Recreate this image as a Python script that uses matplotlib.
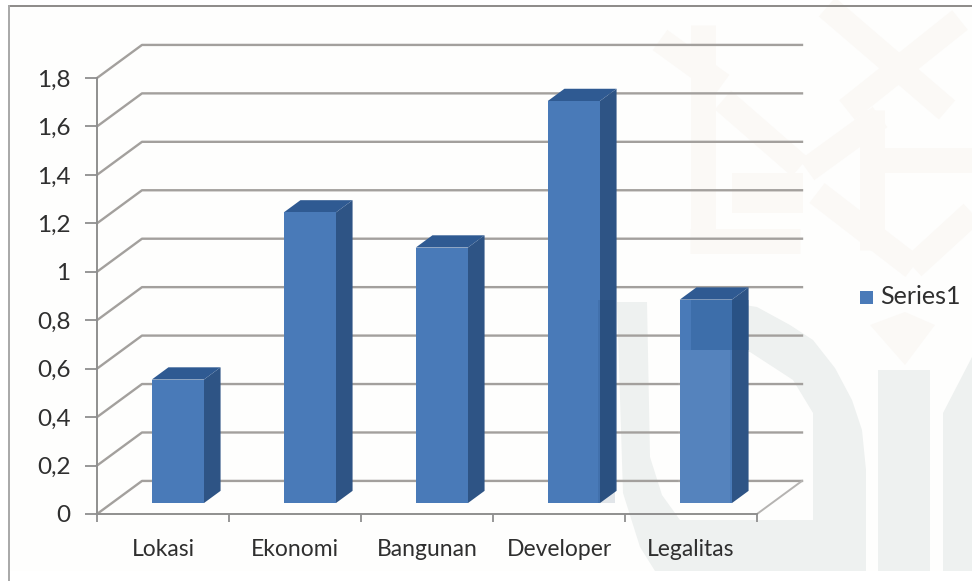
import matplotlib
matplotlib.use('Agg')
import matplotlib.pyplot as plt
from matplotlib.patches import Polygon, Rectangle

categories = ['Lokasi', 'Ekonomi', 'Bangunan', 'Developer', 'Legalitas']
values = [0.51, 1.20, 1.055, 1.66, 0.84]
y_ticks = [0, 0.2, 0.4, 0.6, 0.8, 1, 1.2, 1.4, 1.6, 1.8]
y_labels = ['0', '0,2', '0,4', '0,6', '0,8', '1', '1,2', '1,4', '1,6', '1,8']
series_name = 'Series1'

W, H = 972, 581
FONT = 'Lato'
TEXT = '#2f2f2f'
GRID = '#a3a09d'

# oblique offset of the back wall, in category units and value units
DX = 45 / 132
DY = 33 / (435 / 1.8)
BAR_W = 0.395
D0, D1 = 0.33, 0.70


def shift(x, y, d):
    return x + DX * d, y + DY * d


fig = plt.figure(figsize=(W / 100, H / 100), dpi=100, facecolor='white')

# background layer in pixel coordinates
bg = fig.add_axes([0, 0, 1, 1])
bg.set_xlim(0, W)
bg.set_ylim(H, 0)
bg.axis('off')
bg.add_patch(Rectangle((9, 6), W - 9, 565, fc='#fefefd', ec='none'))

# pale seal pattern, top right
CREAM = '#fbf9f6'
bands = [
    ((660, 40), (722, 85)),
    ((827, 7), (947, 110)),
    ((960, 20), (847, 110)),
    ((723, 100), (800, 167)),
    ((807, 170), (880, 117)),
    ((817, 193), (913, 267)),
    ((913, 267), (972, 213)),
    ((703, 25), (703, 253)),
    ((690, 241), (800, 241)),
    ((872, 110), (872, 250)),
    ((872, 160), (972, 160)),
]
for a, b in bands:
    bg.plot([a[0], b[0]], [a[1], b[1]], color=CREAM, lw=18, solid_capstyle='butt')
bg.add_patch(Rectangle((732, 173), 71, 40, fc=CREAM, ec='none'))
bg.add_patch(Polygon([(870, 325), (905, 312), (935, 325), (905, 365)], closed=True, fc=CREAM, ec='none'))

# pale green letterforms, bottom right
GREEN = '#eef1f0'
arc = [(691, 300), (720, 301), (757, 307), (790, 325), (813, 340), (835, 368), (852, 400),
       (862, 430), (866, 470), (866, 571), (655, 571), (640, 547), (623, 493), (617, 302),
       (647, 302), (650, 457), (662, 495), (680, 520), (813, 520), (813, 413), (793, 380),
       (750, 352), (691, 350)]
bg.add_patch(Polygon(arc, closed=True, fc=GREEN, ec='none'))
bg.add_patch(Rectangle((878, 370), 52, 201, fc=GREEN, ec='none'))
bg.add_patch(Polygon([(943, 571), (943, 413), (972, 357), (972, 571)], closed=True, fc=GREEN, ec='none'))

# frame of the chart area
bg.plot([9, W], [6, 6], color='#8c8a88', lw=1.4)
bg.plot([9, 9], [6, H], color='#a8a8a8', lw=1.4)

ax = fig.add_axes([97 / W, 1 - 514 / H, 660 / W, 436 / H])
ax.patch.set_alpha(0)
ax.set_xlim(0, len(categories))
ax.set_ylim(0, 1.8)
for side in ['top', 'right']:
    ax.spines[side].set_visible(False)
for side in ['left', 'bottom']:
    ax.spines[side].set_color('#8f8f8f')
    ax.spines[side].set_linewidth(1.4)

# back wall grid lines and their slanted returns
n = len(categories)
for t in y_ticks:
    bx, by = shift(0, t, 1)
    ax.plot([0, bx, n + DX], [t, by, by], color=GRID, lw=1.7, clip_on=False, zorder=1)
ex, ey = shift(n, 0, 1)
ax.plot([n, ex], [0, ey], color='#b5b3b1', lw=1.4, clip_on=False, zorder=1)

# 3d columns: front face, roof and side
for i, v in enumerate(values):
    x0 = i + 0.5 - BAR_W / 2
    x1 = x0 + BAR_W
    fa = [shift(x0, 0, D0), shift(x1, 0, D0), shift(x1, v, D0), shift(x0, v, D0)]
    side = [shift(x1, 0, D0), shift(x1, 0, D1), shift(x1, v, D1), shift(x1, v, D0)]
    roof = [shift(x0, v, D0), shift(x1, v, D0), shift(x1, v, D1), shift(x0, v, D1)]
    ax.add_patch(Polygon(side, closed=True, fc='#2e5485', ec='none', zorder=3, clip_on=False))
    ax.add_patch(Polygon(roof, closed=True, fc='#2f5a92', ec='none', zorder=3, clip_on=False))
    ax.add_patch(Polygon(fa, closed=True, fc='#497ab8', ec='none', zorder=4, clip_on=False))

ax.set_xticks(range(n + 1))
ax.set_xticklabels([])
ax.set_yticks(y_ticks)
ax.set_yticklabels(y_labels, fontname=FONT, fontsize=17.5, color=TEXT)
ax.tick_params(axis='y', length=9, width=1.3, color='#8f8f8f', pad=10)
ax.tick_params(axis='x', length=6, width=1.3, color='#8f8f8f')
for i, name in enumerate(categories):
    ax.annotate(name, (i + 0.5, 0), xytext=(0, -36), textcoords='offset pixels',
                ha='center', va='center', fontname=FONT, fontsize=16.5, color=TEXT)

# legend
top = fig.add_axes([0, 0, 1, 1])
top.set_xlim(0, W)
top.set_ylim(H, 0)
top.axis('off')
top.add_patch(Rectangle((860, 291), 13, 13, fc='#4a7ab8', ec='none'))
top.text(880, 297, series_name, fontname=FONT, fontsize=18, color=TEXT, va='center', ha='left')

# the seal prints over the columns as a translucent tint
top.add_patch(Rectangle((691, 300), 58, 50, fc='#1f4f86', ec='none', alpha=0.28))
top.add_patch(Rectangle((598, 300), 17, 203, fc='#12365f', ec='none', alpha=0.12))
top.add_patch(Rectangle((678, 350), 52, 153, fc='white', ec='none', alpha=0.07))

fig.savefig('out.png', dpi=100)
